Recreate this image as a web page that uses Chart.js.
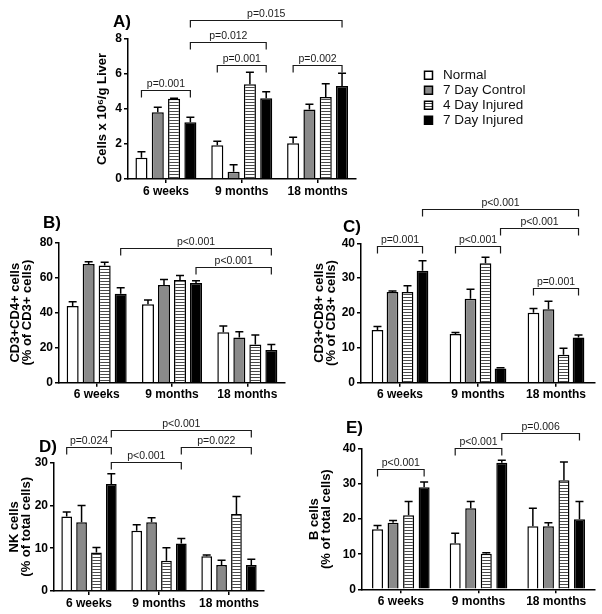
<!DOCTYPE html>
<html>
<head>
<meta charset="utf-8">
<title>Liver immune cells by age</title>
<script src="https://cdn.jsdelivr.net/npm/chart.js@4.4.1/dist/chart.umd.min.js"></script>
<style>
  html, body { margin: 0; padding: 0; background: #fff; }
  body { width: 602px; height: 614px; position: relative; overflow: hidden; }
  canvas { position: absolute; }
</style>
</head>
<body>
<script>
const groups = ['6 weeks', '9 months', '18 months'];
const seriesNames = ['Normal', '7 Day Control', '4 Day Injured', '7 Day Injured'];

// rows = series (same order as seriesNames), columns = age groups
// brackets: [group, series] -> [group, series], bracket height (axis units), label

// A) total cells
const liverMeans = [[1.22, 1.93, 2.04], [3.82, 0.42, 3.97], [4.58, 5.42, 4.69], [3.24, 4.62, 5.32]];
const liverSem = [[0.34, 0.23, 0.35], [0.28, 0.40, 0.30], [0.04, 0.68, 0.75], [0.29, 0.36, 0.73]];
const liverTicks = [0, 2, 4, 6, 8];
const liverBrackets = [
    [0, 0, 0, 3, 5.1, 'p=0.001'],
    [1, 0, 1, 3, 6.53, 'p=0.001'],
    [2, 0, 2, 3, 6.53, 'p=0.002'],
    [0, 3, 1, 3, 7.82, 'p=0.012'],
    [0, 3, 2, 3, 9.06, 'p=0.015']
];

// B) CD4 T cells
const cd4Means = [[43.8, 44.8, 28.8], [67.8, 55.8, 25.9], [67.0, 58.7, 21.9], [50.9, 57.0, 18.7]];
const cd4Sem = [[2.5, 2.4, 3.6], [1.3, 3.2, 3.2], [1.8, 2.6, 5.3], [3.4, 1.3, 3.2]];
const cd4Ticks = [0, 20, 40, 60, 80];
const cd4Brackets = [
    [0, 3, 2, 3, 76.8, 'p<0.001'],
    [1, 3, 2, 3, 65.9, 'p<0.001']
];

// C) CD8 T cells
const cd8Means = [[15.1, 14.0, 20.1], [26.0, 24.1, 21.1], [26.0, 34.3, 8.0], [32.1, 4.1, 13.0]];
const cd8Sem = [[1.0, 0.4, 1.2], [0.3, 2.7, 2.3], [1.8, 1.7, 1.9], [2.9, 0.2, 0.7]];
const cd8Ticks = [0, 10, 20, 30, 40];
const cd8Brackets = [
    [0, 0, 0, 3, 39.3, 'p=0.001'],
    [1, 0, 1, 3, 39.3, 'p<0.001'],
    [2, 0, 2, 3, 27.1, 'p=0.001'],
    [1, 3, 2, 3, 44.3, 'p<0.001'],
    [0, 3, 2, 3, 49.8, 'p<0.001']
];

// D) NK cells
const nkMeans = [[17.4, 14.1, 8.1], [16.1, 16.1, 6.1], [9.0, 7.1, 18.0], [25.0, 11.1, 6.1]];
const nkSem = [[1.1, 1.4, 0.3], [3.9, 1.0, 1.1], [1.2, 3.0, 4.1], [2.4, 1.2, 1.3]];
const nkTicks = [0, 10, 20, 30];
const nkBrackets = [
    [0, 0, 0, 3, 33.6, 'p=0.024'],
    [0, 3, 1, 3, 30.1, 'p<0.001'],
    [1, 3, 2, 3, 33.6, 'p=0.022'],
    [0, 3, 2, 3, 37.6, 'p<0.001']
];

// E) B cells
const bMeans = [[17.1, 13.1, 18.0], [19.0, 23.1, 18.0], [21.1, 10.1, 31.1], [29.1, 36.1, 20.0]];
const bSem = [[1.1, 2.9, 5.1], [0.6, 1.9, 1.0], [3.9, 0.3, 5.2], [1.5, 0.7, 5.0]];
const bTicks = [0, 10, 20, 30, 40];
const bBrackets = [
    [0, 0, 0, 3, 34.2, 'p<0.001'],
    [1, 0, 1, 3, 40.4, 'p<0.001'],
    [1, 3, 2, 3, 44.7, 'p=0.006']
];

const FONT = '"Liberation Sans", Arial, Helvetica, sans-serif';
Chart.defaults.font.family = FONT;
Chart.defaults.color = '#000';

function stripes() {
    const c = document.createElement('canvas');
    c.width = 4;
    c.height = 3;
    const g = c.getContext('2d');
    g.fillStyle = '#fff';
    g.fillRect(0, 0, 4, 3);
    g.fillStyle = '#4a4a4a';
    g.fillRect(0, 0, 4, 1);
    return g.createPattern(c, 'repeat');
}

const fills = ['#ffffff', '#8a8a8a', stripes(), '#000000'];

function addCanvas(left, top, width, height) {
    const c = document.createElement('canvas');
    c.width = width;
    c.height = height;
    c.style.left = left + 'px';
    c.style.top = top + 'px';
    document.body.appendChild(c);
    return c;
}

// error bars (upper only), significance brackets and the panel letter
function panelExtras(letter, letterX, letterY, brackets) {
    return {
        id: 'panelExtras',
        afterDatasetsDraw(chart) {
            const ctx = chart.ctx;
            const y = chart.scales.y;
            ctx.save();
            ctx.strokeStyle = '#000';
            ctx.lineWidth = 1.5;
            chart.data.datasets.forEach((ds, i) => {
                chart.getDatasetMeta(i).data.forEach((bar, j) => {
                    const top = y.getPixelForValue(ds.data[j] + ds.errors[j]);
                    ctx.beginPath();
                    ctx.moveTo(bar.x, bar.y);
                    ctx.lineTo(bar.x, top);
                    ctx.moveTo(bar.x - 4, top);
                    ctx.lineTo(bar.x + 4, top);
                    ctx.stroke();
                });
            });

            ctx.strokeStyle = '#1a1a1a';
            ctx.lineWidth = 1.2;
            ctx.fillStyle = '#1a1a1a';
            ctx.font = '10.5px ' + FONT;
            ctx.textAlign = 'center';
            ctx.textBaseline = 'alphabetic';
            brackets.forEach(([g1, s1, g2, s2, h, label]) => {
                const x1 = chart.getDatasetMeta(s1).data[g1].x;
                const x2 = chart.getDatasetMeta(s2).data[g2].x;
                const yy = Math.round(y.getPixelForValue(h)) + 0.5;
                ctx.beginPath();
                ctx.moveTo(x1, yy + 7);
                ctx.lineTo(x1, yy);
                ctx.lineTo(x2, yy);
                ctx.lineTo(x2, yy + 7);
                ctx.stroke();
                ctx.fillText(label, (x1 + x2) / 2, yy - 4);
            });

            ctx.fillStyle = '#000';
            ctx.font = 'bold 17px ' + FONT;
            ctx.textAlign = 'left';
            ctx.fillText(letter, letterX, letterY);
            ctx.restore();
        }
    };
}

function makePanel(p) {
    const canvas = addCanvas(p.left, p.top, p.width, p.height);
    const titleSize = 13;
    const titleLine = 0.95;
    return new Chart(canvas, {
        type: 'bar',
        data: {
            labels: groups,
            datasets: seriesNames.map((name, i) => ({
                label: name,
                data: p.means[i],
                errors: p.sems[i],
                backgroundColor: fills[i],
                borderColor: '#000',
                borderWidth: 1.5,
                categoryPercentage: p.cat,
                barPercentage: p.bar
            }))
        },
        options: {
            responsive: false,
            animation: false,
            layout: { padding: { top: p.padTop, right: p.padRight, left: 0, bottom: 0 } },
            plugins: {
                legend: { display: false },
                tooltip: { enabled: false }
            },
            scales: {
                x: {
                    grid: { display: true, drawOnChartArea: false, offset: false, tickLength: 4, color: '#000', lineWidth: 1.5 },
                    border: { color: '#000', width: 1.5 },
                    ticks: { color: '#000', font: { size: 12, weight: 'bold' }, padding: 1, maxRotation: 0, autoSkip: false },
                    afterFit: s => { s.height = p.xH; }
                },
                y: {
                    min: p.ticks[0],
                    max: p.ticks[p.ticks.length - 1],
                    afterBuildTicks: s => { s.ticks = p.ticks.map(v => ({ value: v })); },
                    grid: { drawOnChartArea: false, tickLength: 4, color: '#000', lineWidth: 1.5 },
                    border: { color: '#000', width: 1.5 },
                    ticks: { color: '#000', font: { size: 12, weight: 'bold' }, padding: 2 },
                    title: {
                        display: true,
                        text: p.title,
                        color: '#000',
                        font: { size: titleSize, weight: 'bold', lineHeight: titleLine },
                        padding: { top: p.titleX - titleSize * titleLine / 2, bottom: 0 }
                    },
                    afterFit: s => { s.width = p.yW; }
                }
            }
        },
        plugins: [panelExtras(p.letter, p.letterX, p.letterY, p.brackets)]
    });
}

makePanel({
    left: 60, top: 0, width: 302, height: 200,
    yW: 68, xH: 21, padTop: 39, padRight: 6.5, cat: 0.86, bar: 0.74,
    means: liverMeans, sems: liverSem, ticks: liverTicks, brackets: liverBrackets,
    title: 'Cells x 10\u2076/g Liver', titleX: 42,
    letter: 'A)', letterX: 53, letterY: 27
});

makePanel({
    left: 0, top: 200, width: 300, height: 210,
    yW: 59, xH: 27.3, padTop: 42.7, padRight: 15, cat: 0.85, bar: 0.75,
    means: cd4Means, sems: cd4Sem, ticks: cd4Ticks, brackets: cd4Brackets,
    title: ['CD3+CD4+ cells', '(% of CD3+ cells)'], titleX: 15,
    letter: 'B)', letterX: 43, letterY: 28
});

makePanel({
    left: 300, top: 195, width: 302, height: 215,
    yW: 61, xH: 27.3, padTop: 48.3, padRight: 7, cat: 0.77, bar: 0.78,
    means: cd8Means, sems: cd8Sem, ticks: cd8Ticks, brackets: cd8Brackets,
    title: ['CD3+CD8+ cells', '(% of CD3+ cells)'], titleX: 19,
    letter: 'C)', letterX: 43, letterY: 37
});

makePanel({
    left: 0, top: 410, width: 300, height: 204,
    yW: 54, xH: 23, padTop: 52.7, padRight: 36, cat: 0.85, bar: 0.72,
    means: nkMeans, sems: nkSem, ticks: nkTicks, brackets: nkBrackets,
    title: ['NK cells', '(% of total cells)'], titleX: 14,
    letter: 'D)', letterX: 39, letterY: 42
});

makePanel({
    left: 300, top: 410, width: 302, height: 204,
    yW: 62, xH: 24.7, padTop: 39, padRight: 7, cat: 0.8, bar: 0.71,
    means: bMeans, sems: bSem, ticks: bTicks, brackets: bBrackets,
    title: ['B cells', '(% of total cells)'], titleX: 14,
    letter: 'E)', letterX: 46, letterY: 23
});

// legend on its own small canvas, right of panel A
const legendCanvas = addCanvas(423, 67, 240, 70);
new Chart(legendCanvas, {
    type: 'bar',
    data: {
        labels: [],
        datasets: seriesNames.map((name, i) => ({
            label: name,
            data: [],
            backgroundColor: fills[i],
            borderColor: '#000',
            borderWidth: 1.5
        }))
    },
    options: {
        responsive: false,
        animation: false,
        scales: { x: { display: false }, y: { display: false } },
        plugins: {
            tooltip: { enabled: false },
            legend: {
                position: 'left',
                align: 'start',
                labels: {
                    boxWidth: 8,
                    boxHeight: 8,
                    padding: 1.5,
                    color: '#111',
                    font: { size: 13.5 },
                    generateLabels: chart => Chart.defaults.plugins.legend.labels.generateLabels(chart)
                        .map(item => Object.assign(item, { text: ' ' + item.text }))
                }
            }
        }
    }
});
</script>
</body>
</html>
